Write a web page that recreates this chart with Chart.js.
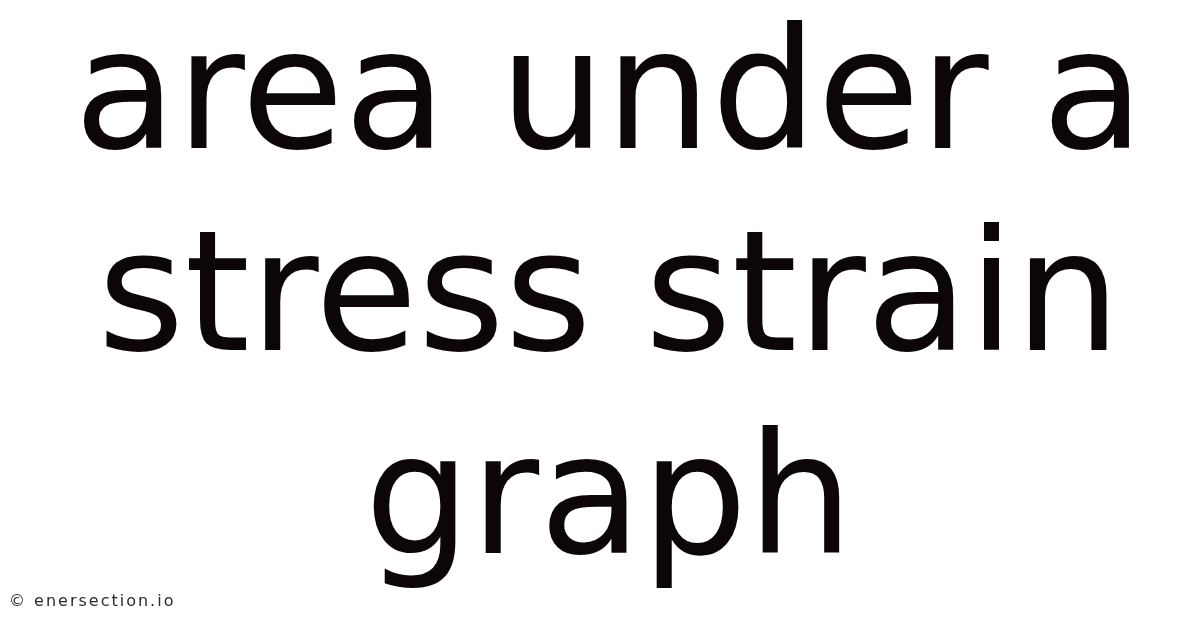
<!DOCTYPE html>
<html>
<head>
<meta charset="utf-8">
<script src="https://cdn.jsdelivr.net/npm/chart.js@4/dist/chart.umd.min.js"></script>
<style>
  html, body { margin: 0; padding: 0; background: #ffffff; }
  #wrap { width: 1200px; height: 628px; position: relative; }
</style>
</head>
<body>
<div id="wrap"><canvas id="chart1"></canvas></div>
<script>
// the picture is only a title card: no marks, just the heading and the credit
const titleLines = ["area under a", "stress strain", "graph"]
const credit = "© enersection.io"
const labels = []
const values = []

// draws the small credit line in the bottom left corner
const creditPlugin = {
  id: 'creditText',
  afterDraw(chart) {
    const ctx = chart.ctx;
    ctx.save();
    ctx.font = '16px "DejaVu Sans"';
    ctx.fillStyle = '#2b2b2b';
    ctx.textBaseline = 'alphabetic';
    ctx.textAlign = 'left';
    if ('letterSpacing' in ctx) ctx.letterSpacing = '2px';
    ctx.fillText(credit, 9, 606);
    ctx.restore();
  }
};

const bgPlugin = {
  id: 'customCanvasBackgroundColor',
  beforeDraw(chart) {
    const ctx = chart.ctx;
    ctx.save();
    ctx.fillStyle = 'white';
    ctx.fillRect(0, 0, chart.width, chart.height);
    ctx.restore();
  }
};

const data = {
  labels: labels,
  datasets: [
    {
      label: "none",
      data: values,
      borderColor: "#0d0606",
      backgroundColor: "#0d0606",
    },
  ]
}

const config = {
  type: 'line',
  data: data,
  options: {
    responsive: true,
    maintainAspectRatio: false,
    animation: false,
    devicePixelRatio: 1,
    layout: {
      padding: { left: 18, right: 0, top: 0, bottom: 0 },
    },
    plugins: {
      legend: { display: false },
      tooltip: { enabled: false },
      title: {
        display: true,
        text: titleLines,
        color: "#0d0606",
        font: {
          family: '"DejaVu Sans"',
          size: 167,
          weight: 'normal',
          lineHeight: 1.21,
        },
        padding: { top: 4, bottom: 0 },
      },
    },
    scales: {
      x: { display: false },
      y: { display: false },
    },
  },
  plugins: [bgPlugin, creditPlugin],
}

const myChart1 = new Chart(document.getElementById('chart1'), config);
</script>
</body>
</html>
